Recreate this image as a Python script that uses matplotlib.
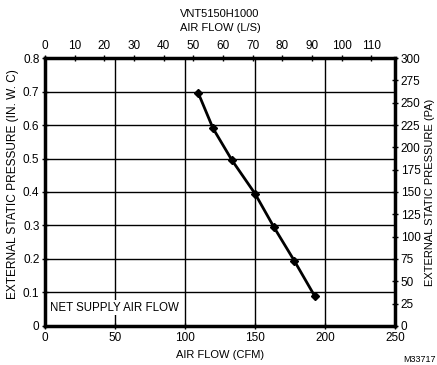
import numpy as np
import matplotlib.pyplot as plt

plt.rcParams['font.family'] = ['Liberation Sans', 'DejaVu Sans']

cfm = [109.5, 120, 133.5, 150, 163.5, 178, 192.5]
pressure = [0.695, 0.59, 0.495, 0.395, 0.295, 0.195, 0.09]

cfm_ticks = [0, 50, 100, 150, 200, 250]
inwc_ticks = [0, 0.1, 0.2, 0.3, 0.4, 0.5, 0.6, 0.7, 0.8]
ls_ticks = list(range(0, 120, 10))
pa_ticks = list(range(0, 325, 25))

CFM_PER_LS = 2.11888

fig = plt.figure(figsize=(4.37, 3.65), dpi=100)
ax = fig.add_axes([0.103, 0.107, 0.801, 0.734])

ax.set_xlim(0, 250)
ax.set_ylim(0, 0.8)
ax.set_xticks(cfm_ticks)
ax.set_yticks(inwc_ticks)
ax.set_yticklabels(['0' if v == 0 else f'{v:.1f}' for v in inwc_ticks])
ax.grid(True, color='black', linewidth=1.0)
ax.tick_params(direction='inout', length=4, width=1, labelsize=8.5, pad=2)
for s in ax.spines.values():
    s.set_linewidth(2.5)

ax.plot(cfm, pressure, color='black', linewidth=2, marker='D', markersize=4.5, zorder=5)

ax.text(3.5, 0.054, 'NET SUPPLY AIR FLOW', fontsize=8.3, va='center', ha='left',
        bbox=dict(facecolor='white', edgecolor='none', pad=1), zorder=4)

ax.set_xlabel('AIR FLOW (CFM)', fontsize=8, labelpad=5)
ax.set_ylabel('EXTERNAL STATIC PRESSURE (IN. W. C)', fontsize=8.6)
ax.yaxis.set_label_coords(-0.075, 0.53)

top = ax.twiny()
top.set_xlim(0, 250 / CFM_PER_LS)
top.set_xticks(ls_ticks)
top.tick_params(direction='inout', length=4, width=1, labelsize=8.5, pad=2)
top.set_xlabel('VNT5150H1000\nAIR FLOW (L/S)', fontsize=8, labelpad=7, linespacing=1.45)

right = ax.twinx()
right.set_ylim(0, 300)
right.set_yticks(pa_ticks)
right.tick_params(direction='inout', length=4, width=1, labelsize=8.5, pad=2)
right.set_ylabel('EXTERNAL STATIC PRESSURE (PA)', fontsize=8, labelpad=3)

fig.text(0.998, 0.004, 'M33717', fontsize=6.5, ha='right', va='bottom')

fig.savefig('out.png', dpi=100)
